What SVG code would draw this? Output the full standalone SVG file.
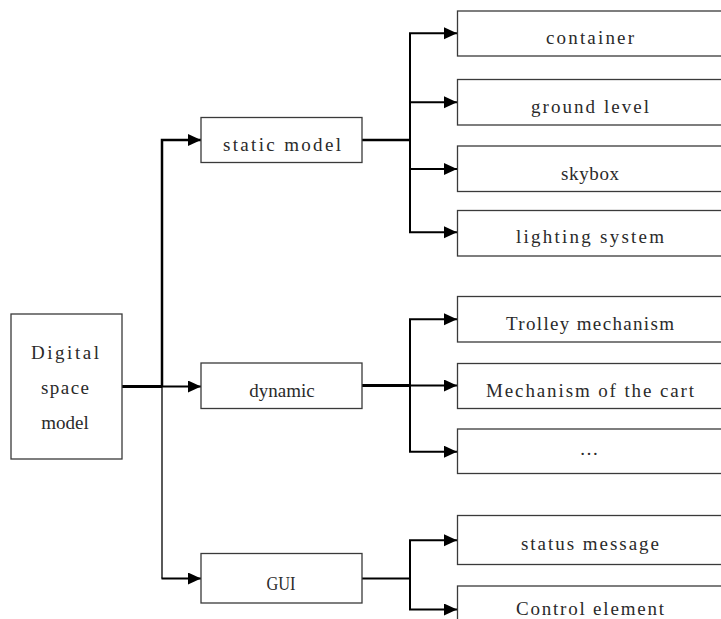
<svg xmlns="http://www.w3.org/2000/svg" width="721" height="619" viewBox="0 0 721 619">
<style>
.box{fill:#fff;stroke:#3a3a3a;stroke-width:1.3}
.lbl{font-family:"Liberation Serif","DejaVu Serif",serif;font-size:19px;fill:#2a2a2a;text-anchor:middle}
.c{fill:none;stroke:#000;stroke-width:2}
.thick{stroke-width:3}
.thin{stroke-width:1.3}
</style>
<defs>
<marker id="ah" markerUnits="userSpaceOnUse" markerWidth="14" markerHeight="13" refX="13" refY="6" orient="auto">
<path d="M0,0 L13,6 L0,12 z" fill="#000"/>
</marker>
</defs>
<rect width="721" height="619" fill="#fff"/>
<g id="connectors">
<path class="c thick" d="M122,386.5 H162"/>
<path class="c" d="M162,386.5 H201" marker-end="url(#ah)"/>
<path class="c" style="stroke-width:2.5" d="M162,387 V140 H201" marker-end="url(#ah)"/>
<path class="c thin" d="M162,386 V578.5"/>
<path class="c" d="M161.5,578.5 H201" marker-end="url(#ah)"/>
<path class="c" style="stroke-width:2.5" d="M362,140 H410"/>
<path class="c" d="M410,33.3 V232.3"/>
<path class="c" d="M409,33.3 H457" marker-end="url(#ah)"/>
<path class="c" d="M410,102.3 H457" marker-end="url(#ah)"/>
<path class="c" d="M410,169 H457" marker-end="url(#ah)"/>
<path class="c" d="M409,232.3 H457" marker-end="url(#ah)"/>
<path class="c thick" d="M360,385.5 H410"/>
<path class="c" d="M410,319.3 V451.7"/>
<path class="c" d="M409,319.3 H457" marker-end="url(#ah)"/>
<path class="c" d="M410,385.5 H457" marker-end="url(#ah)"/>
<path class="c" d="M409,451.7 H457" marker-end="url(#ah)"/>
<path class="c" d="M362,578.5 H410"/>
<path class="c" d="M410,540.3 V609.5"/>
<path class="c" d="M409,540.3 H457" marker-end="url(#ah)"/>
<path class="c" d="M409,609.5 H457" marker-end="url(#ah)"/>
</g>
<g id="digital-space-model">
<rect class="box" x="11" y="314" width="111" height="145"/>
<text class="lbl" x="65" y="359" textLength="68" lengthAdjust="spacing">Digital</text>
<text class="lbl" x="65" y="394" textLength="48" lengthAdjust="spacing">space</text>
<text class="lbl" x="65" y="429">model</text>
</g>
<g id="static-model">
<rect class="box" x="201" y="117.5" width="161" height="45"/>
<text class="lbl" x="282" y="151" textLength="118" lengthAdjust="spacing">static model</text>
</g>
<g id="dynamic">
<rect class="box" x="201" y="363" width="161" height="45.5"/>
<text class="lbl" x="282" y="397">dynamic</text>
</g>
<g id="gui">
<rect class="box" x="201" y="553.5" width="161" height="49.5"/>
<text class="lbl" x="281" y="590" textLength="29" lengthAdjust="spacingAndGlyphs">GUI</text>
</g>
<g id="container">
<rect class="box" x="457.5" y="11" width="270" height="45"/>
<text class="lbl" x="590" y="44" textLength="88" lengthAdjust="spacing">container</text>
</g>
<g id="ground-level">
<rect class="box" x="457.5" y="79.5" width="270" height="45.5"/>
<text class="lbl" x="590" y="113" textLength="118" lengthAdjust="spacing">ground level</text>
</g>
<g id="skybox">
<rect class="box" x="457.5" y="146" width="270" height="45.5"/>
<text class="lbl" x="590" y="180" textLength="58" lengthAdjust="spacing">skybox</text>
</g>
<g id="lighting-system">
<rect class="box" x="457.5" y="210.5" width="270" height="45.5"/>
<text class="lbl" x="590" y="243" textLength="148" lengthAdjust="spacing">lighting system</text>
</g>
<g id="trolley-mechanism">
<rect class="box" x="457.5" y="296.5" width="270" height="45.5"/>
<text class="lbl" x="590" y="330" textLength="168" lengthAdjust="spacing">Trolley mechanism</text>
</g>
<g id="mechanism-of-the-cart">
<rect class="box" x="457.5" y="363.5" width="270" height="45"/>
<text class="lbl" x="590" y="397" textLength="208" lengthAdjust="spacing">Mechanism of the cart</text>
</g>
<g id="ellipsis">
<rect class="box" x="457.5" y="429" width="270" height="44.5"/>
<text class="lbl" x="589" y="455">…</text>
</g>
<g id="status-message">
<rect class="box" x="457.5" y="515.5" width="270" height="49"/>
<text class="lbl" x="590" y="550" textLength="138" lengthAdjust="spacing">status message</text>
</g>
<g id="control-element">
<rect class="box" x="457.5" y="586" width="270" height="50"/>
<text class="lbl" x="590" y="615" textLength="148" lengthAdjust="spacing">Control element</text>
</g>
</svg>
